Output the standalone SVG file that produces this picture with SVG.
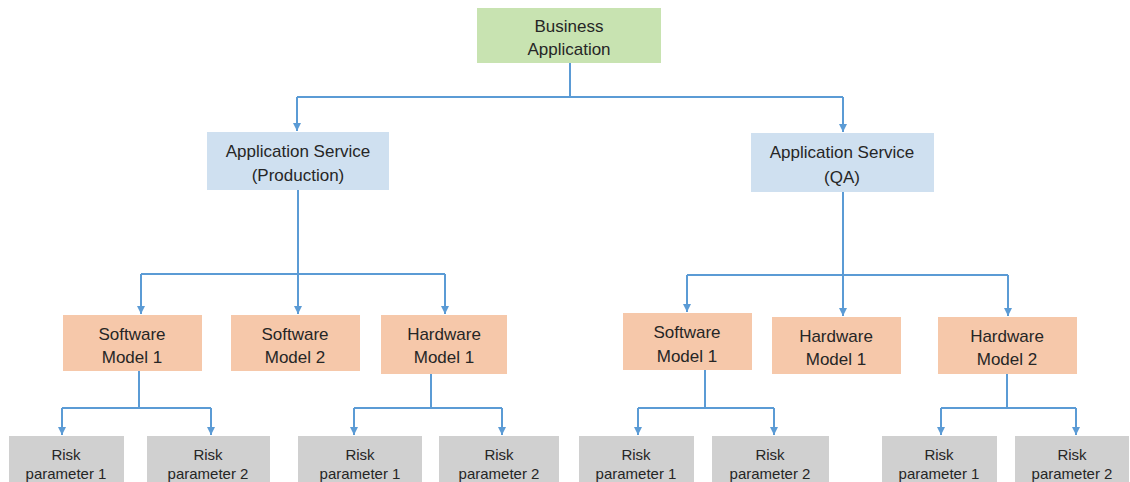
<svg xmlns="http://www.w3.org/2000/svg" width="1130" height="482" viewBox="0 0 1130 482">
<style>
.t{font-family:"Liberation Sans",Arial,sans-serif;font-size:17px;fill:#262626;text-anchor:middle}
.s{font-family:"Liberation Sans",Arial,sans-serif;font-size:15px;fill:#262626;text-anchor:middle}
.g{fill:#c8e3b1}
.b{fill:#cfe0f0}
.o{fill:#f6c8aa}
.r{fill:#d0d0d0}
.c{fill:none;stroke:#5b9bd5;stroke-width:2}
.a{fill:none;stroke:#5b9bd5;stroke-width:2;marker-end:url(#ah)}
</style>
<defs>
<marker id="ah" markerUnits="userSpaceOnUse" markerWidth="10" markerHeight="10" refX="9" refY="5" orient="auto" viewBox="0 0 10 10">
<path d="M1,1 L9,5 L1,9 Z" fill="#5b9bd5"/>
</marker>
</defs>
<rect width="1130" height="482" fill="#ffffff"/>
<g id="connectors">
<path class="c" d="M570,63 V97 M297,97 H843"/>
<path class="a" d="M297,97 V131"/>
<path class="a" d="M843,97 V132"/>
<path class="c" d="M141,274 H445"/>
<path class="a" d="M298,190 V314"/>
<path class="a" d="M141,274 V314"/>
<path class="a" d="M445,274 V314"/>
<path class="c" d="M687,275 H1008"/>
<path class="a" d="M843,192 V316"/>
<path class="a" d="M687,275 V312"/>
<path class="a" d="M1008,275 V316"/>
<path class="c" d="M139,371 V408 M62,408 H211 M431,374 V408 M354,408 H502 M705,370 V408 M638,408 H774 M1007,374 V408 M941,408 H1076"/>
<path class="a" d="M62,408 V435"/>
<path class="a" d="M211,408 V435"/>
<path class="a" d="M354,408 V435"/>
<path class="a" d="M502,408 V435"/>
<path class="a" d="M638,408 V435"/>
<path class="a" d="M774,408 V435"/>
<path class="a" d="M941,408 V435"/>
<path class="a" d="M1076,408 V435"/>
</g>
<g id="business-application"><rect class="g" x="477" y="8" width="184" height="55"/><text class="t" x="569" y="32">Business</text><text class="t" x="569" y="55">Application</text></g>
<g id="as-production"><rect class="b" x="207" y="132" width="182" height="58"/><text class="t" x="298" y="157">Application Service</text><text class="t" x="298" y="181">(Production)</text></g>
<g id="as-qa"><rect class="b" x="751" y="133" width="183" height="59"/><text class="t" x="842" y="158">Application Service</text><text class="t" x="842" y="183">(QA)</text></g>
<g id="p-sw1"><rect class="o" x="63" y="315" width="139" height="56"/><text class="t" x="132" y="340">Software</text><text class="t" x="132" y="363">Model 1</text></g>
<g id="p-sw2"><rect class="o" x="231" y="315" width="129" height="56"/><text class="t" x="295" y="340">Software</text><text class="t" x="295" y="363">Model 2</text></g>
<g id="p-hw1"><rect class="o" x="381" y="315" width="126" height="59"/><text class="t" x="444" y="340">Hardware</text><text class="t" x="444" y="363">Model 1</text></g>
<g id="q-sw1"><rect class="o" x="623" y="313" width="129" height="57"/><text class="t" x="687" y="338">Software</text><text class="t" x="687" y="362">Model 1</text></g>
<g id="q-hw1"><rect class="o" x="772" y="317" width="129" height="57"/><text class="t" x="836" y="342">Hardware</text><text class="t" x="836" y="365">Model 1</text></g>
<g id="q-hw2"><rect class="o" x="938" y="317" width="139" height="57"/><text class="t" x="1007" y="342">Hardware</text><text class="t" x="1007" y="365">Model 2</text></g>
<g id="rp-a1"><rect class="r" x="9" y="436" width="115" height="50"/><text class="s" x="66" y="460">Risk</text><text class="s" x="66" y="479">parameter 1</text></g>
<g id="rp-a2"><rect class="r" x="147" y="436" width="123" height="50"/><text class="s" x="208" y="460">Risk</text><text class="s" x="208" y="479">parameter 2</text></g>
<g id="rp-b1"><rect class="r" x="298" y="436" width="124" height="50"/><text class="s" x="360" y="460">Risk</text><text class="s" x="360" y="479">parameter 1</text></g>
<g id="rp-b2"><rect class="r" x="439" y="436" width="120" height="50"/><text class="s" x="499" y="460">Risk</text><text class="s" x="499" y="479">parameter 2</text></g>
<g id="rp-c1"><rect class="r" x="579" y="436" width="115" height="50"/><text class="s" x="636" y="460">Risk</text><text class="s" x="636" y="479">parameter 1</text></g>
<g id="rp-c2"><rect class="r" x="712" y="436" width="117" height="50"/><text class="s" x="770" y="460">Risk</text><text class="s" x="770" y="479">parameter 2</text></g>
<g id="rp-d1"><rect class="r" x="882" y="436" width="115" height="50"/><text class="s" x="939" y="460">Risk</text><text class="s" x="939" y="479">parameter 1</text></g>
<g id="rp-d2"><rect class="r" x="1015" y="436" width="114" height="50"/><text class="s" x="1072" y="460">Risk</text><text class="s" x="1072" y="479">parameter 2</text></g>
</svg>
